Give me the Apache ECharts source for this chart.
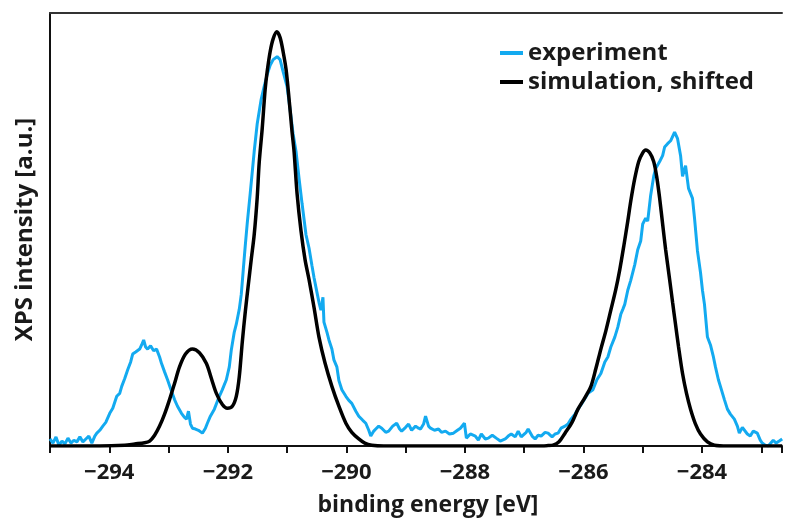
<!DOCTYPE html>
<html>
<head>
<meta charset="utf-8">
<script src="https://cdn.jsdelivr.net/npm/echarts@6/dist/echarts.min.js"></script>
<style>
html,body{margin:0;padding:0;background:#fff;}
#chart{width:785px;height:522px;}
</style>
</head>
<body>
<div id="chart"></div>
<script>
// binding energy [eV] and normalized intensity [a.u.]
var experimentEnergy = [
-295.000,-294.950,-294.899,-294.849,-294.798,-294.748,-294.697,-294.647,-294.597,-294.546,
-294.496,-294.445,-294.395,-294.345,-294.294,-294.244,-294.210,-294.160,-294.109,-294.059,
-293.992,-293.941,-293.874,-293.824,-293.790,-293.739,-293.689,-293.639,-293.605,-293.555,
-293.487,-293.454,-293.420,-293.387,-293.353,-293.303,-293.252,-293.202,-293.151,-293.118,
-293.067,-293.017,-292.966,-292.899,-292.849,-292.782,-292.731,-292.697,-292.664,-292.630,
-292.597,-292.546,-292.496,-292.429,-292.378,-292.345,-292.294,-292.227,-292.176,-292.143,
-292.092,-292.025,-291.975,-291.941,-291.891,-291.857,-291.807,-291.773,-291.739,-291.706,
-291.672,-291.622,-291.555,-291.504,-291.437,-291.387,-291.336,-291.286,-291.235,-291.168,
-291.118,-291.067,-291.000,-290.950,-290.899,-290.849,-290.798,-290.748,-290.681,-290.630,
-290.580,-290.546,-290.496,-290.462,-290.429,-290.395,-290.378,-290.328,-290.294,-290.244,
-290.210,-290.160,-290.126,-290.076,-290.008,-289.958,-289.908,-289.840,-289.790,-289.723,
-289.672,-289.622,-289.588,-289.538,-289.504,-289.454,-289.403,-289.336,-289.286,-289.218,
-289.151,-289.101,-289.067,-289.000,-288.950,-288.899,-288.832,-288.782,-288.748,-288.697,
-288.664,-288.613,-288.580,-288.513,-288.445,-288.395,-288.328,-288.261,-288.193,-288.126,
-288.076,-288.008,-287.975,-287.908,-287.824,-287.773,-287.723,-287.655,-287.605,-287.538,
-287.471,-287.403,-287.319,-287.269,-287.218,-287.151,-287.101,-287.050,-287.017,-286.966,
-286.933,-286.866,-286.815,-286.765,-286.714,-286.647,-286.597,-286.529,-286.479,-286.429,
-286.378,-286.311,-286.261,-286.210,-286.143,-286.092,-286.025,-285.975,-285.924,-285.840,
-285.773,-285.706,-285.639,-285.588,-285.538,-285.471,-285.420,-285.370,-285.336,-285.303,
-285.252,-285.202,-285.134,-285.084,-285.034,-285.000,-284.950,-284.916,-284.866,-284.815,
-284.782,-284.714,-284.664,-284.630,-284.580,-284.529,-284.462,-284.412,-284.361,-284.328,
-284.277,-284.227,-284.160,-284.126,-284.076,-284.025,-283.992,-283.958,-283.908,-283.857,
-283.807,-283.773,-283.723,-283.689,-283.622,-283.571,-283.521,-283.454,-283.403,-283.370,
-283.319,-283.286,-283.235,-283.185,-283.134,-283.067,-283.017,-282.983,-282.933,-282.882,
-282.849,-282.798,-282.748,-282.697,-282.647
];
var experimentIntensity = [
0.017,0.007,0.022,0.002,0.012,0.005,0.019,0.007,0.014,0.010,
0.022,0.010,0.017,0.024,0.007,0.024,0.031,0.038,0.048,0.057,
0.079,0.091,0.120,0.127,0.144,0.163,0.184,0.203,0.222,0.227,
0.234,0.244,0.256,0.239,0.234,0.242,0.230,0.234,0.215,0.199,
0.179,0.160,0.139,0.112,0.096,0.079,0.069,0.065,0.084,0.053,
0.043,0.041,0.038,0.031,0.043,0.055,0.072,0.089,0.108,0.120,
0.136,0.160,0.191,0.232,0.275,0.294,0.330,0.366,0.426,0.483,
0.538,0.610,0.711,0.778,0.837,0.868,0.897,0.919,0.933,0.940,
0.933,0.904,0.868,0.813,0.754,0.711,0.646,0.586,0.510,0.478,
0.435,0.407,0.371,0.347,0.328,0.359,0.299,0.275,0.256,0.234,
0.208,0.191,0.158,0.136,0.120,0.110,0.103,0.084,0.072,0.062,
0.055,0.038,0.024,0.036,0.041,0.048,0.043,0.033,0.036,0.048,
0.055,0.041,0.036,0.045,0.053,0.038,0.048,0.043,0.041,0.053,
0.072,0.048,0.043,0.038,0.041,0.033,0.036,0.029,0.031,0.038,
0.043,0.055,0.019,0.029,0.024,0.014,0.029,0.017,0.019,0.026,
0.019,0.012,0.017,0.024,0.029,0.022,0.036,0.022,0.024,0.033,
0.041,0.024,0.017,0.026,0.024,0.033,0.031,0.022,0.029,0.031,
0.043,0.048,0.053,0.065,0.077,0.089,0.103,0.115,0.127,0.136,
0.160,0.175,0.203,0.215,0.239,0.263,0.287,0.318,0.330,0.342,
0.376,0.400,0.438,0.474,0.495,0.536,0.550,0.543,0.605,0.651,
0.670,0.687,0.701,0.722,0.730,0.737,0.758,0.742,0.701,0.651,
0.677,0.622,0.598,0.550,0.471,0.419,0.376,0.342,0.263,0.244,
0.215,0.191,0.160,0.144,0.112,0.089,0.077,0.065,0.048,0.031,
0.045,0.041,0.029,0.024,0.036,0.031,0.014,0.007,0.002,0.000,
0.002,0.014,0.007,0.012,0.017
];
var simulationEnergy = [
-295.000,-294.160,-293.739,-293.571,-293.403,-293.319,-293.235,-293.151,-293.067,-292.983,
-292.899,-292.815,-292.714,-292.597,-292.479,-292.361,-292.277,-292.193,-292.092,-292.008,
-291.924,-291.857,-291.807,-291.756,-291.706,-291.655,-291.605,-291.555,-291.504,-291.471,
-291.420,-291.370,-291.336,-291.286,-291.235,-291.173,-291.118,-291.067,-291.017,-290.966,
-290.916,-290.882,-290.832,-290.765,-290.697,-290.630,-290.546,-290.462,-290.361,-290.244,
-290.126,-290.008,-289.908,-289.790,-289.689,-289.571,-289.370,-286.765,-286.597,-286.513,
-286.412,-286.311,-286.193,-286.092,-285.975,-285.874,-285.790,-285.706,-285.622,-285.538,
-285.454,-285.387,-285.319,-285.252,-285.202,-285.134,-285.067,-285.000,-284.950,-284.882,
-284.815,-284.765,-284.714,-284.664,-284.613,-284.546,-284.496,-284.445,-284.395,-284.328,
-284.261,-284.193,-284.109,-284.025,-283.908,-283.790,-283.571,-282.647
];
var simulationIntensity = [
0.000,0.000,0.002,0.005,0.008,0.012,0.026,0.048,0.077,0.112,
0.151,0.191,0.222,0.234,0.225,0.199,0.163,0.127,0.100,0.091,
0.096,0.120,0.167,0.251,0.323,0.388,0.450,0.510,0.600,0.683,
0.766,0.861,0.904,0.952,0.983,1.000,0.986,0.952,0.909,0.837,
0.758,0.711,0.610,0.519,0.450,0.402,0.335,0.263,0.201,0.144,
0.096,0.055,0.033,0.017,0.007,0.002,0.000,0.000,0.001,0.002,
0.010,0.031,0.057,0.089,0.117,0.144,0.187,0.234,0.278,0.328,
0.378,0.426,0.483,0.543,0.591,0.646,0.687,0.708,0.715,0.708,
0.687,0.651,0.598,0.536,0.474,0.402,0.347,0.292,0.239,0.175,
0.127,0.089,0.053,0.029,0.010,0.002,0.000,0.000
];
var seriesNames = ['experiment', 'simulation, shifted'];
var xMin = -295, xMax = -282.65, yMin = 0, yMax = 1.0455;

function pairs(xs, ys) { return xs.map(function (x, i) { return [x, ys[i]]; }); }

var FONT = 'Open Sans';
var chart = echarts.init(document.getElementById('chart'), null, {renderer: 'canvas'});
chart.setOption({
  animation: false,
  backgroundColor: '#ffffff',
  grid: {left: 50, right: 0, top: 13, bottom: 72, containLabel: false},
  legend: {
    orient: 'vertical',
    right: 26, top: 36,
    itemWidth: 23, itemHeight: 4, itemGap: 5,
    icon: 'rect',
    textStyle: {fontFamily: FONT, fontWeight: 'bold', fontSize: 24, color: '#1a1a1a'},
    data: seriesNames
  },
  xAxis: [{
    type: 'value', min: xMin, max: xMax, interval: 1,
    name: 'binding energy [eV]', nameLocation: 'middle', nameGap: 48,
    nameTextStyle: {fontFamily: FONT, fontWeight: 'bold', fontSize: 23, color: '#1a1a1a',
      padding: [0, 0, 0, 24]},
    axisLine: {show: true, lineStyle: {color: '#111', width: 2}},
    axisTick: {show: true, length: 7, lineStyle: {color: '#111', width: 2}},
    axisLabel: {
      fontFamily: FONT, fontWeight: 'bold', fontSize: 22, color: '#1a1a1a', margin: 16,
      formatter: function (v) {
        if (Math.abs(v % 2) > 1e-6 || v < -294.5 || v > -283.5) return '';
        return '\u2212' + Math.abs(v);
      }
    },
    splitLine: {show: false}
  }, {
    type: 'value', position: 'top', min: xMin, max: xMax,
    axisLine: {show: true, lineStyle: {color: '#333', width: 2}},
    axisTick: {show: false}, axisLabel: {show: false}, splitLine: {show: false}
  }],
  yAxis: {
    type: 'value', min: yMin, max: yMax,
    name: 'XPS intensity [a.u.]', nameLocation: 'middle', nameGap: 13,
    nameTextStyle: {fontFamily: FONT, fontWeight: 'bold', fontSize: 24, color: '#1a1a1a'},
    axisLine: {show: true, lineStyle: {color: '#111', width: 2}},
    axisTick: {show: false}, axisLabel: {show: false}, splitLine: {show: false}
  },
  series: [{
    name: seriesNames[0], type: 'line', showSymbol: false, symbol: 'none',
    data: pairs(experimentEnergy, experimentIntensity),
    lineStyle: {color: '#13aaf0', width: 3}, itemStyle: {color: '#13aaf0'}, z: 2
  }, {
    name: seriesNames[1], type: 'line', showSymbol: false, symbol: 'none', smooth: 0.3,
    data: pairs(simulationEnergy, simulationIntensity),
    lineStyle: {color: '#000000', width: 3.5}, itemStyle: {color: '#000000'}, z: 3
  }]
});
</script>
</body>
</html>
